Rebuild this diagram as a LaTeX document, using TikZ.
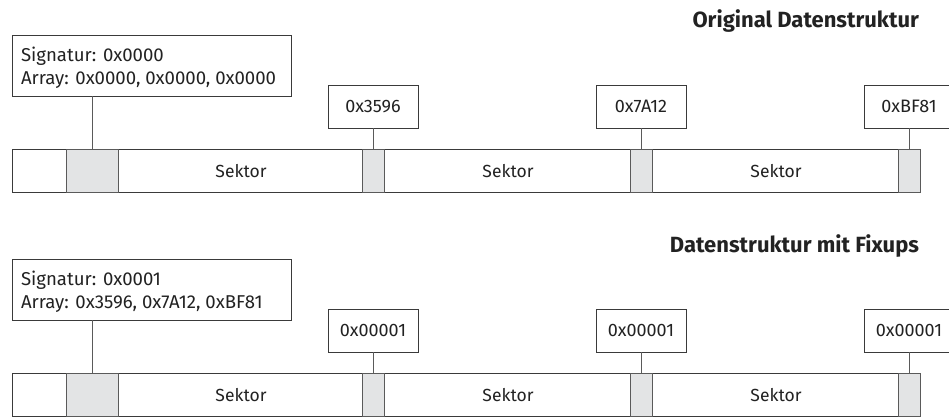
\documentclass[tikz,border=0pt]{standalone}
\usepackage{fontspec}
\setmainfont{Fira Sans}
\definecolor{linec}{HTML}{3A3A3A}
\definecolor{cellline}{HTML}{5A5A5A}
\definecolor{connc}{HTML}{5A5A5A}
\definecolor{cellgray}{HTML}{E3E4E5}
\definecolor{textc}{HTML}{222222}
\begin{document}
\begin{tikzpicture}[x=1pt,y=-1pt,
  every node/.style={inner sep=0pt, outer sep=0pt, text=textc},
  bar/.style={draw=linec, line width=0.9pt, fill=white, minimum height=43pt},
  cell/.style={draw=cellline, line width=0.9pt, fill=cellgray, minimum height=43pt},
  lbl/.style={draw=linec, line width=0.8pt, fill=white, minimum width=90pt, minimum height=43pt},
  lbltxt/.style={font=\fontsize{18}{22}\selectfont},
  sig/.style={draw=linec, line width=0.8pt, fill=white, minimum width=279pt, minimum height=61pt},
  sigtxt/.style={anchor=west, align=left, font=\fontsize{18.6}{23}\selectfont},
  sek/.style={font=\fontsize{17.5}{20}\selectfont},
  title/.style={anchor=base east, font=\fontsize{22}{25}\selectfont\bfseries},
  conn/.style={draw=connc, line width=0.8pt}]
\clip (0,0) rectangle (949,417);
\fill[white] (0,0) rectangle (949,417);

% ---------- top: Original Datenstruktur ----------
\node[title] (t1) at (919,28) {Original Datenstruktur};
\node[bar, minimum width=908pt] (bar1) at (466,170.5) {};
\node[cell, minimum width=52pt] (c10) at (92,170.5) {};
\node[cell, minimum width=22pt] (c11) at (373,170.5) {};
\node[cell, minimum width=22pt] (c12) at (641,170.5) {};
\node[cell, minimum width=22pt] (c13) at (909,170.5) {};
\node[sek] (s11) at (241,171.5) {Sektor};
\node[sek] (s12) at (508,171.5) {Sektor};
\node[sek] (s13) at (776,171.5) {Sektor};
\node[sig] (g1) at (151.5,65.5) {};
\node[sigtxt] (g1t) at (21,67.5) {Signatur: 0x0000\\Array: 0x0000, 0x0000, 0x0000};
\node[lbl] (b11) at (373,106.5) {};
\node[lbl] (b12) at (641,106.5) {};
\node[lbl] (b13) at (909,106.5) {};
\node[lbltxt] at (b11) {0x3596};
\node[lbltxt] at (b12) {0x7A12};
\node[lbltxt] at (b13) {0xBF81};
\draw[conn] (c10.north) -- (c10.north |- g1.south);
\draw[conn] (b11.south) -- (c11.north);
\draw[conn] (b12.south) -- (c12.north);
\draw[conn] (b13.south) -- (c13.north);

% ---------- bottom: Datenstruktur mit Fixups ----------
\node[title] (t2) at (919,252) {Datenstruktur mit Fixups};
\node[bar, minimum width=908pt] (bar2) at (466,394.5) {};
\node[cell, minimum width=52pt] (c20) at (92,394.5) {};
\node[cell, minimum width=22pt] (c21) at (373,394.5) {};
\node[cell, minimum width=22pt] (c22) at (641,394.5) {};
\node[cell, minimum width=22pt] (c23) at (909,394.5) {};
\node[sek] (s21) at (241,395.5) {Sektor};
\node[sek] (s22) at (508,395.5) {Sektor};
\node[sek] (s23) at (776,395.5) {Sektor};
\node[sig] (g2) at (151.5,289.5) {};
\node[sigtxt] (g2t) at (21,291.5) {Signatur: 0x0001\\Array: 0x3596, 0x7A12, 0xBF81};
\node[lbl] (b21) at (373,330.5) {};
\node[lbl] (b22) at (641,330.5) {};
\node[lbl] (b23) at (909,330.5) {};
\node[lbltxt] at (b21) {0x00001};
\node[lbltxt] at (b22) {0x00001};
\node[lbltxt] at (b23) {0x00001};
\draw[conn] (c20.north) -- (c20.north |- g2.south);
\draw[conn] (b21.south) -- (c21.north);
\draw[conn] (b22.south) -- (c22.north);
\draw[conn] (b23.south) -- (c23.north);
\end{tikzpicture}
\end{document}
